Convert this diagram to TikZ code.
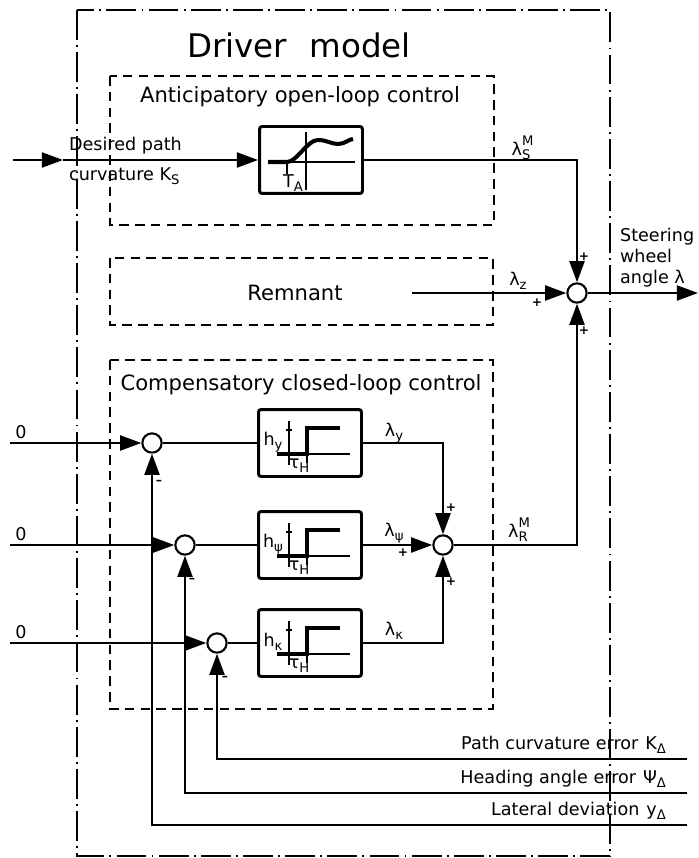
\documentclass[tikz,border=0pt]{standalone}
\usepackage{amsmath}
\usepackage{fontspec}
\setmainfont{DejaVu Sans}
\usetikzlibrary{arrows.meta}

\tikzset{
  sig/.style={line width=1.3pt},
  sumnode/.style={circle,draw,line width=1.2pt,fill=white,inner sep=0pt,minimum size=11pt},
  blk/.style={draw,line width=1.7pt,rounded corners=1.5pt,minimum width=2.06cm,minimum height=1.34cm},
  grp/.style={line width=1.1pt,dash pattern=on 5.5pt off 3.5pt},
  outerbox/.style={line width=1.1pt,dash pattern=on 17pt off 3pt on 1pt off 3pt},
  lbl/.style={font=\fontsize{10}{12}\selectfont,inner sep=1pt},
  hdr/.style={font=\fontsize{12}{14}\selectfont},
  sgn/.style={font=\bfseries\fontsize{7}{7}\selectfont,inner sep=0pt},
}

% symbol with text subscript (and superscript)
\newcommand{\sym}[2]{#1\raisebox{-0.45ex}{\fontsize{7.5}{8}\selectfont #2}}
\newcommand{\symsup}[3]{#1\rlap{\raisebox{1.0ex}{\fontsize{7.5}{8}\selectfont #2}}\raisebox{-0.45ex}{\fontsize{7.5}{8}\selectfont #3}}

% step response drawn inside a block
\newcommand{\stepresp}[2]{%
  \begin{scope}[shift={(#1.center)}]
    \draw[line width=0.8pt] (-21,22) -- (-21,-22);
    \draw[line width=0.8pt] (-24,-13) -- (-18,-13);
    \draw[line width=0.8pt] (-33,11) -- (40,11);
    \draw[line width=2.3pt] (-33,11) -- (-3,11) -- (-3,-15) -- (30,-15);
    \draw[line width=0.8pt] (-3,11) -- (-3,20);
    \node[lbl] at (-11,23) {\sym{τ}{H}};
    \node[lbl] at (-37,-1) {\sym{h}{#2}};
  \end{scope}}

\begin{document}
\begin{tikzpicture}[x=0.02cm,y=-0.02cm,>={Triangle[length=12pt,width=8.5pt]}]
  \useasboundingbox (0,0) rectangle (698,858);
  % driver model frame
  \draw[outerbox] (77,10) rectangle (610,856);
  \node[font=\fontsize{18.5}{22}\selectfont] (title) at (299,45) {Driver\hspace{0.7em}model};
  % anticipatory part
  \draw[grp] (110,76) rectangle (494,225);
  \node[hdr] (antictitle) at (300,97) {Anticipatory open-loop control};
  \node[blk] (antic) at (311,160) {};
  \begin{scope}[shift={(antic.center)}]
    \draw[line width=0.8pt] (-43,2) -- (44,2);
    \draw[line width=0.8pt] (-5,-28) -- (-5,30);
    \draw[line width=2.3pt] (-43,2) -- (-24,2) .. controls (-14,2) and (-4,-20) .. (7,-20)
      .. controls (16,-20) and (20,-16) .. (27,-16) .. controls (34,-16) and (38,-21) .. (42,-21);
    \draw[line width=0.8pt] (-24,2) -- (-24,14);
    \node[lbl] at (-18,23) {\sym{T}{A}};
  \end{scope}
  \coordinate (ks) at (13,160);
  \coordinate (ksarr) at (63,160);
  \draw[sig,->] (ks) -- (ksarr);
  \draw[sig,->] (ksarr) -- (antic.west);
  \node[lbl,anchor=west] (desired) at (67,146) {Desired path};
  \node[lbl,anchor=west] (curv) at (67,176) {curvature \sym{K}{S}};
  % summing point
  \node[sumnode] (sum) at (577,293) {};
  \draw[sig,->] (antic.east) -| (sum.north);
  \node[lbl] (ls) at (521,148) {\symsup{λ}{M}{S}};
  % remnant
  \draw[grp] (110,258) rectangle (493,325);
  \node[hdr] (remnant) at (295,293) {Remnant};
  \coordinate (lz) at (412,293);
  \draw[sig,->] (lz) -- (sum.west);
  \node[lbl] (lzlbl) at (518,281) {\sym{λ}{z}};
  \coordinate (out) at (698,293);
  \draw[sig,->] (sum.east) -- (out);
  \node[lbl,anchor=west,align=left] (steer) at (618,258) {Steering\\wheel\\angle λ};
  \node[sgn] at (584,257) {+};
  \node[sgn] at (537,303) {+};
  \node[sgn] at (584,331) {+};
  % compensatory part
  \draw[grp] (110,360) rectangle (493,709);
  \node[hdr] (comptitle) at (301,385) {Compensatory closed-loop control};
  \node[sumnode] (s1) at (152,443) {};
  \node[sumnode] (s2) at (185,545) {};
  \node[sumnode] (s3) at (217,643) {};
  \node[blk] (b1) at (310,443) {};
  \node[blk] (b2) at (310,545) {};
  \node[blk] (b3) at (310,643) {};
  \stepresp{b1}{y}
  \stepresp{b2}{ψ}
  \stepresp{b3}{κ}
  \node[sumnode] (ms) at (443,545) {};
  \coordinate (z1) at (10,443);
  \coordinate (z2) at (10,545);
  \coordinate (z3) at (10,643);
  \node[lbl] at (21,432) {0};
  \node[lbl] at (21,534) {0};
  \node[lbl] at (21,632) {0};
  \draw[sig,->] (z1) -- (s1);
  \draw[sig,->] (z2) -- (s2);
  \draw[sig,->] (z3) -- (s3);
  \draw[sig] (s1) -- (b1);
  \draw[sig] (s2) -- (b2);
  \draw[sig] (s3) -- (b3);
  \draw[sig,->] (b1.east) -| (ms.north);
  \draw[sig,->] (b2.east) -- (ms.west);
  \draw[sig,->] (b3.east) -| (ms.south);
  \node[lbl] at (394,433) {\sym{λ}{y}};
  \node[lbl] at (394,533) {\sym{λ}{ψ}};
  \node[lbl] at (394,631) {\sym{λ}{κ}};
  \node[sgn] at (451,508) {+};
  \node[sgn] at (403,553) {+};
  \node[sgn] at (451,582) {+};
  \draw[sig,->] (ms.east) -| (sum.south);
  \node[lbl] (lr) at (518,530) {\symsup{λ}{M}{R}};
  % feedback of the errors
  \coordinate (fk) at (687,759);
  \coordinate (fpsi) at (687,793);
  \coordinate (fy) at (687,825);
  \draw[sig,->] (fk) -| (s3.south);
  \draw[sig,->] (fpsi) -| (s2.south);
  \draw[sig,->] (fy) -| (s1.south);
  \node[sgn] at (159,482) {--};
  \node[sgn] at (192,580) {--};
  \node[sgn] at (225,678) {--};
  \node[lbl,anchor=south east] (kerr) at (668,756) {Path curvature error\hspace{0.4em}\sym{K}{Δ}};
  \node[lbl,anchor=south east] (perr) at (668,790) {Heading angle error\hspace{0.4em}\sym{Ψ}{Δ}};
  \node[lbl,anchor=south east] (yerr) at (668,822) {Lateral deviation\hspace{0.4em}\sym{y}{Δ}};
\end{tikzpicture}
\end{document}
